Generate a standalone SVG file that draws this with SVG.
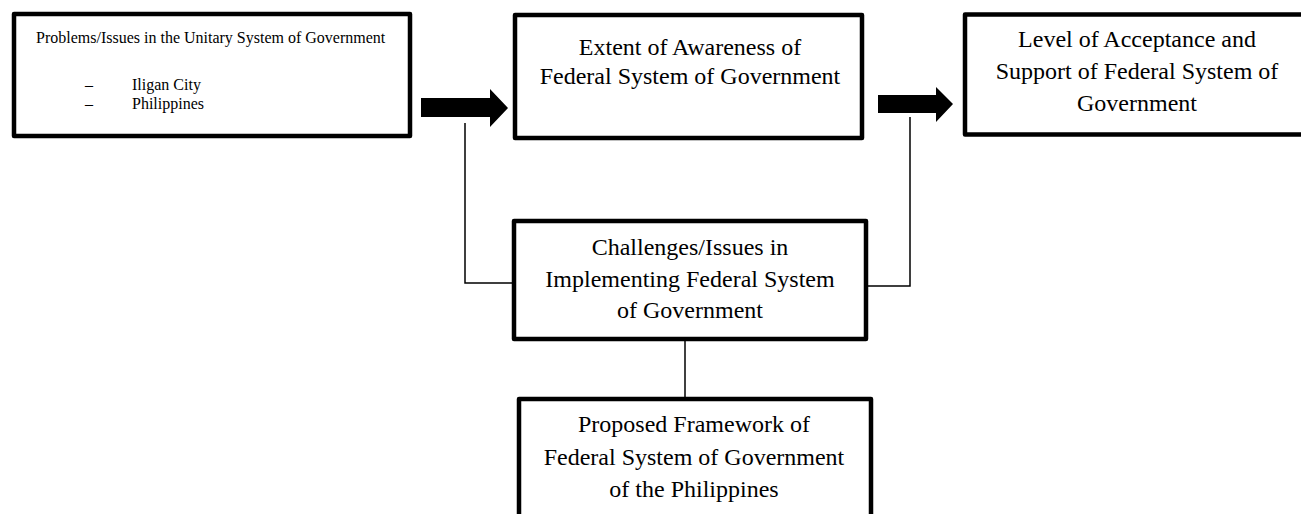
<svg xmlns="http://www.w3.org/2000/svg" width="1301" height="514" viewBox="0 0 1301 514">
  <style>
    .box { fill: #ffffff; stroke: #000000; stroke-width: 4.5; stroke-linejoin: round; }
    .lbl { font-family: "Liberation Serif", "Times New Roman", serif; font-size: 24px; fill: #000000; text-anchor: middle; }
    .sm { font-family: "Liberation Serif", "Times New Roman", serif; font-size: 16px; fill: #000000; }
    .wire { fill: none; stroke: #000000; stroke-width: 1.5; }
    .fat { fill: #000000; stroke: none; }
  </style>
  <rect width="1301" height="514" fill="#ffffff"/>

  <!-- connectors -->
  <g id="connectors">
    <polygon class="fat" points="421,98 490,98 490,89 508,108 490,127 490,117 421,117"/>
    <polygon class="fat" points="878,95 936,95 936,87 953,104 936,122 936,113 878,113"/>
    <polyline class="wire" points="465,123 465,283 512,283"/>
    <polyline class="wire" points="910,117 910,286 866,286"/>
    <line class="wire" x1="685" y1="341" x2="685" y2="397"/>
  </g>

  <g id="node-problems">
    <rect class="box" x="14" y="14" width="396" height="122"/>
    <text class="sm" x="36" y="43">Problems/Issues in the Unitary System of Government</text>
    <text class="sm" x="85" y="90">–</text>
    <text class="sm" x="132" y="90">Iligan City</text>
    <text class="sm" x="85" y="109">–</text>
    <text class="sm" x="132" y="109">Philippines</text>
  </g>

  <g id="node-awareness">
    <rect class="box" x="515" y="15" width="347" height="123"/>
    <text class="lbl" x="690" y="55">Extent of Awareness of</text>
    <text class="lbl" x="690" y="84">Federal System of Government</text>
  </g>

  <g id="node-acceptance">
    <rect class="box" x="965" y="14.5" width="345" height="120"/>
    <text class="lbl" x="1137" y="47">Level of Acceptance and</text>
    <text class="lbl" x="1137" y="79">Support of Federal System of</text>
    <text class="lbl" x="1137" y="111">Government</text>
  </g>

  <g id="node-challenges">
    <rect class="box" x="514" y="221" width="352" height="118"/>
    <text class="lbl" x="690" y="255">Challenges/Issues in</text>
    <text class="lbl" x="690" y="287">Implementing Federal System</text>
    <text class="lbl" x="690" y="318">of Government</text>
  </g>

  <g id="node-framework">
    <rect class="box" x="519" y="399" width="352" height="130"/>
    <text class="lbl" x="694" y="432">Proposed Framework of</text>
    <text class="lbl" x="694" y="465">Federal System of Government</text>
    <text class="lbl" x="694" y="497">of the Philippines</text>
  </g>
</svg>
